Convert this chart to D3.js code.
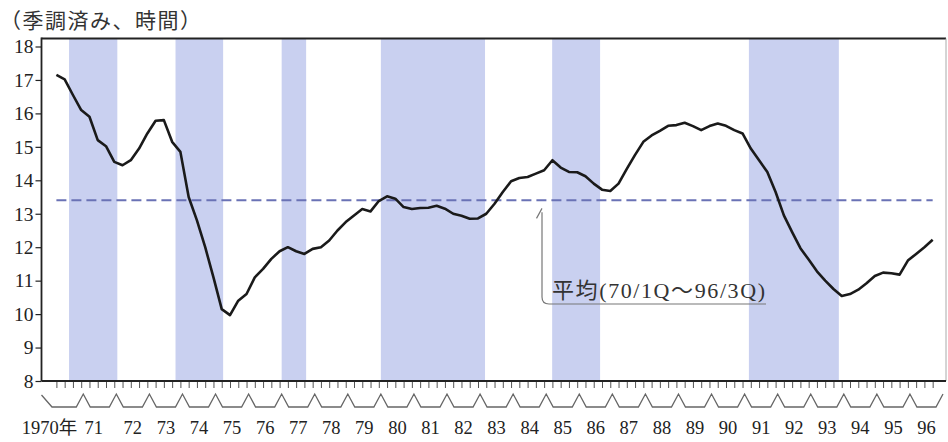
<!DOCTYPE html>
<html>
<head>
<meta charset="utf-8">
<script src="https://cdn.jsdelivr.net/npm/d3@7"></script>
<style>
  body { margin: 0; background: #fff; }
  svg { display: block; }
</style>
</head>
<body>
<div id="chart"></div>
<script>
// overtime hours, seasonally adjusted, quarterly 1970/1Q - 1996/3Q
const hours = [
  17.15, 17.02, 16.55, 16.1, 15.9, 15.2, 15.02, 14.55, 14.45, 14.6,
  14.95, 15.4, 15.78, 15.8, 15.15, 14.85, 13.5, 12.8, 12.0, 11.1,
  10.15, 9.97, 10.4, 10.6, 11.1, 11.35, 11.65, 11.88, 12.0, 11.88,
  11.8, 11.95, 12.0, 12.2, 12.5, 12.75, 12.95, 13.14, 13.07, 13.38,
  13.52, 13.45, 13.2, 13.14, 13.17, 13.18, 13.24, 13.15, 13.0, 12.94,
  12.85, 12.86, 13.0, 13.3, 13.65, 13.97, 14.07, 14.1, 14.2, 14.3,
  14.6, 14.38, 14.25, 14.24, 14.12, 13.9, 13.72, 13.68, 13.9, 14.34,
  14.76, 15.15, 15.34, 15.48, 15.63, 15.65, 15.72, 15.62, 15.5, 15.62,
  15.7, 15.63, 15.5, 15.4, 14.95, 14.6, 14.25, 13.65, 12.95, 12.45,
  11.97, 11.63, 11.28, 11.0, 10.75, 10.54, 10.6, 10.73, 10.92, 11.14,
  11.24, 11.22, 11.18, 11.6, 11.8, 12.0, 12.22
];

const yearLabels = [
  '1970年', '71', '72', '73', '74', '75', '76', '77', '78', '79',
  '80', '81', '82', '83', '84', '85', '86', '87', '88', '89',
  '90', '91', '92', '93', '94', '95', '96'
];
const yTicks = [8, 9, 10, 11, 12, 13, 14, 15, 16, 17, 18];

// recession periods (shaded), in fractional years
const recessionStart = [1970.57, 1973.79, 1977.0, 1980.0, 1985.18, 1991.13];
const recessionEnd = [1972.03, 1975.23, 1977.74, 1983.15, 1986.63, 1993.85];

const averageHours = 13.4;
const averageLabel = '平均(70/1Q～96/3Q)';
const unitLabel = '（季調済み、時間）';

const W = 948, H = 442;
const PLOT = { LEFT: 41.5, TOP: 38.5, RIGHT: 946, BOTTOM: 381 };
const SERIF = '"Liberation Serif", "Noto Sans CJK JP", serif';

const svg = d3.select('#chart')
  .append('svg')
  .attr('width', W)
  .attr('height', H);

const x = d3.scaleLinear().domain([1970, 1997]).range([50.2, 943]);
const y = d3.scaleLinear().domain([8, 18]).range([PLOT.BOTTOM, 46.5]);

// quarter i -> position in years
const qTime = (i) => 1970 + (i + 0.75) / 4;

// shaded recessions
svg.append('g')
  .selectAll('rect')
  .data(recessionStart.map((s, i) => ({ s: s, e: recessionEnd[i] })))
  .enter()
  .append('rect')
  .attr('x', (d) => x(d.s))
  .attr('y', PLOT.TOP)
  .attr('width', (d) => x(d.e) - x(d.s))
  .attr('height', PLOT.BOTTOM - PLOT.TOP)
  .attr('fill', '#c9d0f0');

// frame
svg.append('line')
  .attr('x1', PLOT.LEFT).attr('x2', PLOT.RIGHT)
  .attr('y1', PLOT.TOP).attr('y2', PLOT.TOP)
  .attr('stroke', '#222').attr('stroke-width', 2);
svg.append('line')
  .attr('x1', PLOT.RIGHT).attr('x2', PLOT.RIGHT)
  .attr('y1', PLOT.TOP).attr('y2', PLOT.BOTTOM)
  .attr('stroke', '#aaa').attr('stroke-width', 1);

// y axis
const yAxis = svg.append('g')
  .attr('transform', `translate(${PLOT.LEFT},0)`)
  .call(d3.axisLeft(y).tickValues(yTicks).tickSize(6).tickSizeOuter(0).tickPadding(2));
yAxis.select('.domain').remove();
yAxis.selectAll('.tick line').attr('stroke', '#222').attr('stroke-width', 1.2);
yAxis.selectAll('.tick text')
  .attr('font-family', SERIF)
  .attr('font-size', 19.5)
  .attr('fill', '#222');
svg.append('line')
  .attr('x1', PLOT.LEFT).attr('x2', PLOT.LEFT)
  .attr('y1', PLOT.TOP - 1).attr('y2', PLOT.BOTTOM)
  .attr('stroke', '#222').attr('stroke-width', 1.8);

// x axis: quarterly ticks
const xAxis = svg.append('g')
  .attr('transform', `translate(0,${PLOT.BOTTOM})`)
  .call(d3.axisBottom(x)
    .tickValues(hours.map((d, i) => qTime(i)))
    .tickSize(7)
    .tickSizeOuter(0)
    .tickFormat(''));
xAxis.select('.domain').remove();
xAxis.selectAll('.tick line').attr('stroke', '#555').attr('stroke-width', 1);
svg.append('line')
  .attr('x1', PLOT.LEFT).attr('x2', PLOT.RIGHT)
  .attr('y1', PLOT.BOTTOM).attr('y2', PLOT.BOTTOM)
  .attr('stroke', '#222').attr('stroke-width', 2);

// year brackets under the ticks
const chev = [[PLOT.LEFT, 395], [52, 407]];
for (let k = 1; k < yearLabels.length; k++) {
  const b = x(1970 + k);
  chev.push([b - 7, 407], [b, 394], [b + 7, 407]);
}
chev.push([x(1997) - 7, 407], [x(1997), 394]);
svg.append('path')
  .attr('d', d3.line()(chev))
  .attr('fill', 'none')
  .attr('stroke', '#666')
  .attr('stroke-width', 1.3);

svg.append('g')
  .selectAll('text')
  .data(yearLabels)
  .enter()
  .append('text')
  .attr('x', (d, i) => i === 0 ? x(1971) - 6 : x(1970 + i + 0.5) - (i === 1 ? 6 : 0))
  .attr('y', 434)
  .attr('text-anchor', (d, i) => i === 0 ? 'end' : 'middle')
  .attr('font-family', SERIF)
  .attr('font-size', 18.5)
  .attr('fill', '#222')
  .text((d) => d);

// average line
svg.append('line')
  .attr('x1', x(qTime(0)))
  .attr('x2', x(qTime(hours.length - 1)))
  .attr('y1', y(averageHours))
  .attr('y2', y(averageHours))
  .attr('stroke', '#6a72b5')
  .attr('stroke-width', 2)
  .attr('stroke-dasharray', '10,5');

// series
svg.append('path')
  .datum(hours)
  .attr('d', d3.line()
    .x((d, i) => x(qTime(i)))
    .y((d) => y(d)))
  .attr('fill', 'none')
  .attr('stroke', '#1a1a1a')
  .attr('stroke-width', 2.6)
  .attr('stroke-linejoin', 'round');

// callout for the average
const lx = 542, ly = y(averageHours);
svg.append('path')
  .attr('d', `M${lx - 5.5},${ly + 18} L${lx},${ly + 8} M${lx},${ly + 12} L${lx},297 Q${lx},304 ${lx + 7},304 L766,304`)
  .attr('fill', 'none')
  .attr('stroke', '#777')
  .attr('stroke-width', 1.2);
svg.append('text')
  .attr('x', 552)
  .attr('y', 298)
  .attr('font-family', SERIF)
  .attr('font-size', 22)
  .attr('textLength', 213)
  .attr('lengthAdjust', 'spacing')
  .attr('fill', '#333')
  .text(averageLabel);

// unit label
svg.append('text')
  .attr('x', 0)
  .attr('y', 28)
  .attr('font-family', SERIF)
  .attr('font-size', 21)
  .attr('letter-spacing', 1.5)
  .attr('fill', '#333')
  .text(unitLabel);
</script>
</body>
</html>
